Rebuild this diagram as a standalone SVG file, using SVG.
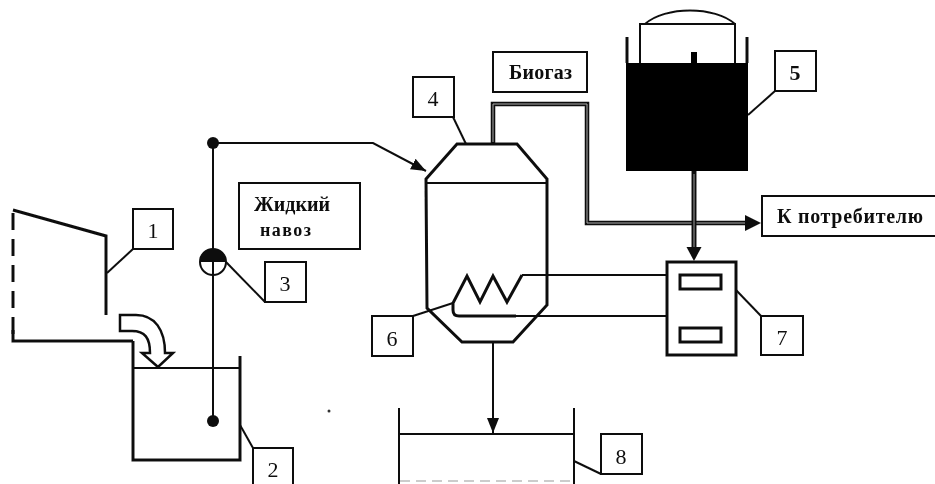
<svg xmlns="http://www.w3.org/2000/svg" width="935" height="484" viewBox="0 0 935 484">
<style>
.l{fill:none;stroke:#111;stroke-width:2}
.t{fill:none;stroke:#111;stroke-width:3}
.b{fill:#fff;stroke:#111;stroke-width:2}
.n{font-family:"Liberation Serif",serif;font-size:22px;fill:#111;text-anchor:middle}
.s{font-family:"Liberation Serif",serif;font-size:20px;fill:#111;font-weight:bold}
.p{fill:none;stroke:#111;stroke-width:4.500}
.c{fill:none;stroke:#aaa;stroke-width:1}
</style>
<defs>
<filter id="f" filterUnits="userSpaceOnUse" x="0" y="0" width="935" height="484"><feGaussianBlur stdDeviation="0.5"/></filter>
<marker id="a" markerUnits="userSpaceOnUse" markerWidth="16" markerHeight="14" refX="15" refY="7" orient="auto"><path d="M0 1L15 7L0 13Z" fill="#111"/></marker>
</defs>
<rect width="935" height="484" fill="#fff"/>
<g filter="url(#f)">
<g id="node-1">
<path class="t" d="M13 210L106 236V315"/>
<path class="t" d="M13 213V336" stroke-dasharray="17 9"/>
<path class="t" d="M13 330V341H133"/>
<rect class="b" x="133" y="209" width="40" height="40"/>
<text class="n" x="153" y="238">1</text>
</g>
<g id="node-2">
<path class="t" d="M133 341V460H240V356"/>
<path class="l" d="M133 368H240"/>
<path d="M120 315H136C155 315 165 330 165 353H173L158 367L142 353H150C150 338 145 331 132 331H120Z" fill="#fff" stroke="#111" stroke-width="2.500"/>
<rect class="b" x="253" y="448" width="40" height="38"/>
<text class="n" x="273" y="477">2</text>
</g>
<g id="node-3">
<circle cx="213" cy="143" r="6" fill="#111"/>
<circle cx="213" cy="421" r="6" fill="#111"/>
<circle cx="213" cy="262" r="13" fill="#fff" stroke="#111" stroke-width="2"/>
<path d="M200 262A13 13 0 0 1 226 262Z" fill="#111"/>
<rect class="b" x="265" y="262" width="41" height="40"/>
<text class="n" x="285" y="291">3</text>
</g>
<g id="label-liquid">
<rect class="b" x="239" y="183" width="121" height="66"/>
<text class="s" x="254" y="211" textLength="76">Жидкий</text>
<text class="s" x="260" y="236" textLength="51" style="font-size:18px">навоз</text>
</g>
<g id="node-4">
<path d="M426 179L457 144H517L547 179V305L513 342H462L427 308Z" fill="#fff" stroke="#111" stroke-width="3"/>
<path class="l" d="M426 183H547"/>
<rect class="b" x="413" y="77" width="41" height="40"/>
<text class="n" x="433" y="106">4</text>
</g>
<g id="label-biogas">
<rect class="b" x="493" y="52" width="94" height="40"/>
<text class="s" x="509" y="79" textLength="63">Биогаз</text>
</g>
<g id="node-5">
<path class="t" d="M627 37V63M747 37V63"/>
<path class="l" d="M640 63V24H735V63"/>
<path class="l" d="M645 24C665 6 715 6 735 24"/>
<rect x="626" y="63" width="122" height="108" fill="#000"/>
<rect x="691" y="52" width="6" height="11" fill="#000"/>
<rect class="b" x="775" y="51" width="41" height="40"/>
<text class="n" x="795" y="80" font-weight="bold">5</text>
</g>
<g id="label-consumer">
<rect class="b" x="762" y="196" width="176" height="40"/>
<text class="s" x="777" y="223" textLength="146">К потребителю</text>
</g>
<g id="node-6">
<path class="t" d="M522 275L507 302L493 276L480 302L467 276L453 303V310Q453 316 459 316H516"/>
<rect class="b" x="372" y="316" width="41" height="40"/>
<text class="n" x="392" y="346">6</text>
</g>
<g id="node-7">
<rect x="667" y="262" width="69" height="93" fill="#fff" stroke="#111" stroke-width="3"/>
<rect x="680" y="275" width="41" height="14" fill="#fff" stroke="#111" stroke-width="3"/>
<rect x="680" y="328" width="41" height="14" fill="#fff" stroke="#111" stroke-width="3"/>
<rect class="b" x="761" y="316" width="42" height="39"/>
<text class="n" x="782" y="345">7</text>
</g>
<g id="node-8">
<path class="l" d="M399 408V486M574 408V486"/>
<path class="l" d="M399 434H574"/>
<path d="M400 481H574" fill="none" stroke="#999" stroke-width="1" stroke-dasharray="10 6"/>
<rect class="b" x="601" y="434" width="41" height="40"/>
<text class="n" x="621" y="464">8</text>
</g>
<g id="connectors">
<path class="l" d="M213 143H373L426 171" marker-end="url(#a)"/>
<path class="l" d="M213 143V421"/>
<path class="p" d="M493 144V104H587V223H748"/>
<path class="c" d="M493 142V104H587V223H745"/>
<path d="M745 215L761 223L745 231Z" fill="#111"/>
<path d="M694 171V250" fill="none" stroke="#111" stroke-width="5"/>
<path d="M694 174V248" fill="none" stroke="#999" stroke-width="1"/>
<path d="M686.500 247H701.500L694 261Z" fill="#111"/>
<path class="l" d="M493 342V433" marker-end="url(#a)"/>
<path class="l" d="M522 275H666"/>
<path class="l" d="M516 316H666"/>
<path class="l" d="M107 273L133 249"/>
<path class="l" d="M240 425L253 448"/>
<path class="l" d="M226 262L265 302"/>
<path class="l" d="M453 117L466 144"/>
<path class="l" d="M748 115L775 91"/>
<path class="l" d="M413 316L453 303"/>
<path class="l" d="M736 290L761 316"/>
<path class="l" d="M574 461L601 474"/>
</g>
<circle cx="329" cy="411" r="1.500" fill="#333"/>
</g>
</svg>
